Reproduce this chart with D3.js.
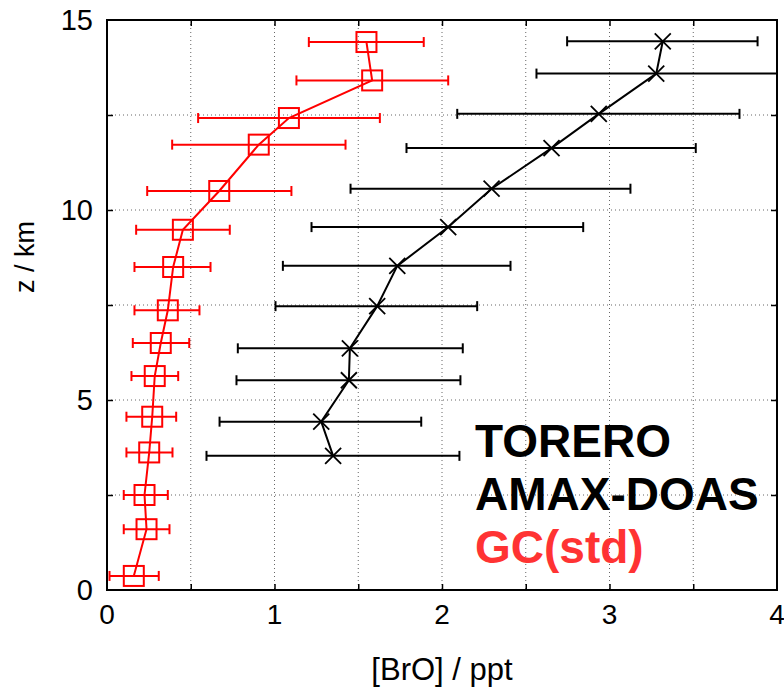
<!DOCTYPE html>
<html>
<head>
<meta charset="utf-8">
<script src="https://cdn.jsdelivr.net/npm/d3@7"></script>
<style>
body { margin: 0; background: #fff; }
text { font-family: "Liberation Sans", Arial, sans-serif; }
</style>
</head>
<body>
<script>
// GC(std) model profile
var gcZ = [0.37, 1.60, 2.50, 3.62, 4.56, 5.63, 6.50, 7.36, 8.50, 9.48, 10.50, 11.72, 12.42, 13.41, 14.42]
var gcBrO = [0.16, 0.236, 0.224, 0.252, 0.27, 0.285, 0.321, 0.363, 0.395, 0.453, 0.67, 0.906, 1.086, 1.583, 1.549]
var gcLow = [0.015, 0.10, 0.10, 0.116, 0.116, 0.146, 0.154, 0.164, 0.164, 0.174, 0.24, 0.389, 0.544, 1.131, 1.205]
var gcHigh = [0.309, 0.373, 0.363, 0.391, 0.413, 0.425, 0.491, 0.552, 0.618, 0.733, 1.101, 1.424, 1.629, 2.037, 1.891]

// TORERO AMAX-DOAS profile
var obsZ = [3.53, 4.43, 5.52, 6.36, 7.47, 8.53, 9.55, 10.56, 11.63, 12.53, 13.59, 14.44]
var obsBrO = [1.35, 1.279, 1.444, 1.45, 1.613, 1.733, 2.037, 2.296, 2.654, 2.936, 3.279, 3.318]
var obsLow = [0.594, 0.672, 0.773, 0.781, 1.006, 1.05, 1.221, 1.454, 1.788, 2.091, 2.564, 2.747]
var obsHigh = [2.104, 1.876, 2.11, 2.124, 2.21, 2.409, 2.843, 3.125, 3.515, 3.776, 4.0, 3.884]

var xTicks = [0, 1, 2, 3, 4]
var yTicks = [0, 5, 10, 15]
var legendLines = ['TORERO', 'AMAX-DOAS', 'GC(std)']

var width = 784
var height = 687
var margin = { left: 107, top: 20, right: 7, bottom: 97 }
var innerWidth = width - margin.left - margin.right
var innerHeight = height - margin.top - margin.bottom

var svg = d3.select('body').append('svg').attr('width', width).attr('height', height)
var g = svg.append('g').attr('transform', `translate(${margin.left},${margin.top})`)

var xScale = d3.scaleLinear().domain([0, 4]).range([0, innerWidth])
var yScale = d3.scaleLinear().domain([0, 15]).range([innerHeight, 0])

svg.append('defs').append('clipPath').attr('id', 'clip')
    .append('rect').attr('width', innerWidth).attr('height', innerHeight)

var xMinor = d3.range(0.5, 4, 0.5)
var yMinor = d3.range(2.5, 15, 2.5)

// dotted grid
g.append('g').selectAll('line').data(xMinor).enter().append('line')
    .attr('x1', d => xScale(d)).attr('x2', d => xScale(d)).attr('y1', 0).attr('y2', innerHeight)
    .attr('stroke', '#666').attr('stroke-width', 1).attr('stroke-dasharray', '1,3')
g.append('g').selectAll('line').data(yMinor).enter().append('line')
    .attr('y1', d => yScale(d)).attr('y2', d => yScale(d)).attr('x1', 0).attr('x2', innerWidth)
    .attr('stroke', '#666').attr('stroke-width', 1).attr('stroke-dasharray', '1,3')

// inward ticks on all four sides
var tickLen = 6
var tickAxis = (axis, transform) => {
    g.append('g').attr('transform', transform).call(axis)
        .call(a => a.select('.domain').remove())
        .call(a => a.selectAll('text').remove())
        .call(a => a.selectAll('line').attr('stroke', '#000').attr('stroke-width', 1.5))
}
tickAxis(d3.axisBottom(xScale).tickValues(d3.range(0.5, 4, 0.5)).tickSize(-tickLen), `translate(0,${innerHeight})`)
tickAxis(d3.axisTop(xScale).tickValues(d3.range(0.5, 4, 0.5)).tickSize(-tickLen), 'translate(0,0)')
tickAxis(d3.axisLeft(yScale).tickValues(d3.range(2.5, 15, 2.5)).tickSize(-tickLen), 'translate(0,0)')
tickAxis(d3.axisRight(yScale).tickValues(d3.range(2.5, 15, 2.5)).tickSize(-tickLen), `translate(${innerWidth},0)`)

// frame
g.append('rect').attr('width', innerWidth).attr('height', innerHeight)
    .attr('fill', 'none').attr('stroke', '#000').attr('stroke-width', 2)

// tick labels
g.append('g').selectAll('text').data(xTicks).enter().append('text')
    .attr('x', d => xScale(d)).attr('y', innerHeight + 34)
    .attr('text-anchor', 'middle').attr('font-size', 28).text(d => d)
g.append('g').selectAll('text').data(yTicks).enter().append('text')
    .attr('x', -14).attr('y', d => yScale(d) + 10)
    .attr('text-anchor', 'end').attr('font-size', 29).text(d => d)

// axis titles
svg.append('text').attr('x', 442).attr('y', 680).attr('text-anchor', 'middle')
    .attr('font-size', 31).text('[BrO] / ppt')
svg.append('text').attr('transform', 'translate(34,257) rotate(-90)').attr('text-anchor', 'middle')
    .attr('font-size', 27).text('z / km')

var plot = g.append('g').attr('clip-path', 'url(#clip)')

var drawSeries = (zs, xs, lo, hi, color, marker) => {
    var rows = zs.map((z, i) => ({ z: z, x: xs[i], lo: lo[i], hi: hi[i] }))
    var s = plot.append('g')
    s.selectAll('.bar').data(rows).enter().append('line')
        .attr('x1', d => xScale(d.lo)).attr('x2', d => xScale(d.hi))
        .attr('y1', d => yScale(d.z)).attr('y2', d => yScale(d.z))
        .attr('stroke', color).attr('stroke-width', 2)
    s.selectAll('.capl').data(rows).enter().append('line')
        .attr('x1', d => xScale(d.lo)).attr('x2', d => xScale(d.lo))
        .attr('y1', d => yScale(d.z) - 5).attr('y2', d => yScale(d.z) + 5)
        .attr('stroke', color).attr('stroke-width', 2)
    s.selectAll('.capr').data(rows).enter().append('line')
        .attr('x1', d => xScale(d.hi)).attr('x2', d => xScale(d.hi))
        .attr('y1', d => yScale(d.z) - 5).attr('y2', d => yScale(d.z) + 5)
        .attr('stroke', color).attr('stroke-width', 2)
    var line = d3.line().x(d => xScale(d.x)).y(d => yScale(d.z))
    s.append('path').datum(rows).attr('d', line)
        .attr('fill', 'none').attr('stroke', color).attr('stroke-width', 2)
    if (marker === 'square') {
        s.selectAll('.m').data(rows).enter().append('rect')
            .attr('x', d => xScale(d.x) - 10).attr('y', d => yScale(d.z) - 10)
            .attr('width', 20).attr('height', 20)
            .attr('fill', 'none').attr('stroke', color).attr('stroke-width', 2)
    } else {
        var cross = d3.symbol().type(d3.symbolTimes).size(200)
        s.selectAll('.m').data(rows).enter().append('path')
            .attr('d', 'M-8,-8L8,8M-8,8L8,-8')
            .attr('transform', d => `translate(${xScale(d.x)},${yScale(d.z)})`)
            .attr('fill', 'none').attr('stroke', color).attr('stroke-width', 1.8)
    }
}

drawSeries(obsZ, obsBrO, obsLow, obsHigh, '#000', 'cross')
drawSeries(gcZ, gcBrO, gcLow, gcHigh, '#ff0000', 'square')

// legend text
var legendColors = ['#000', '#000', '#ff3333']
svg.append('g').selectAll('text').data(legendLines).enter().append('text')
    .attr('x', 475).attr('y', (d, i) => 457 + i * 53)
    .attr('font-size', 46).attr('font-weight', 'bold')
    .attr('fill', (d, i) => legendColors[i]).text(d => d)
</script>
</body>
</html>
